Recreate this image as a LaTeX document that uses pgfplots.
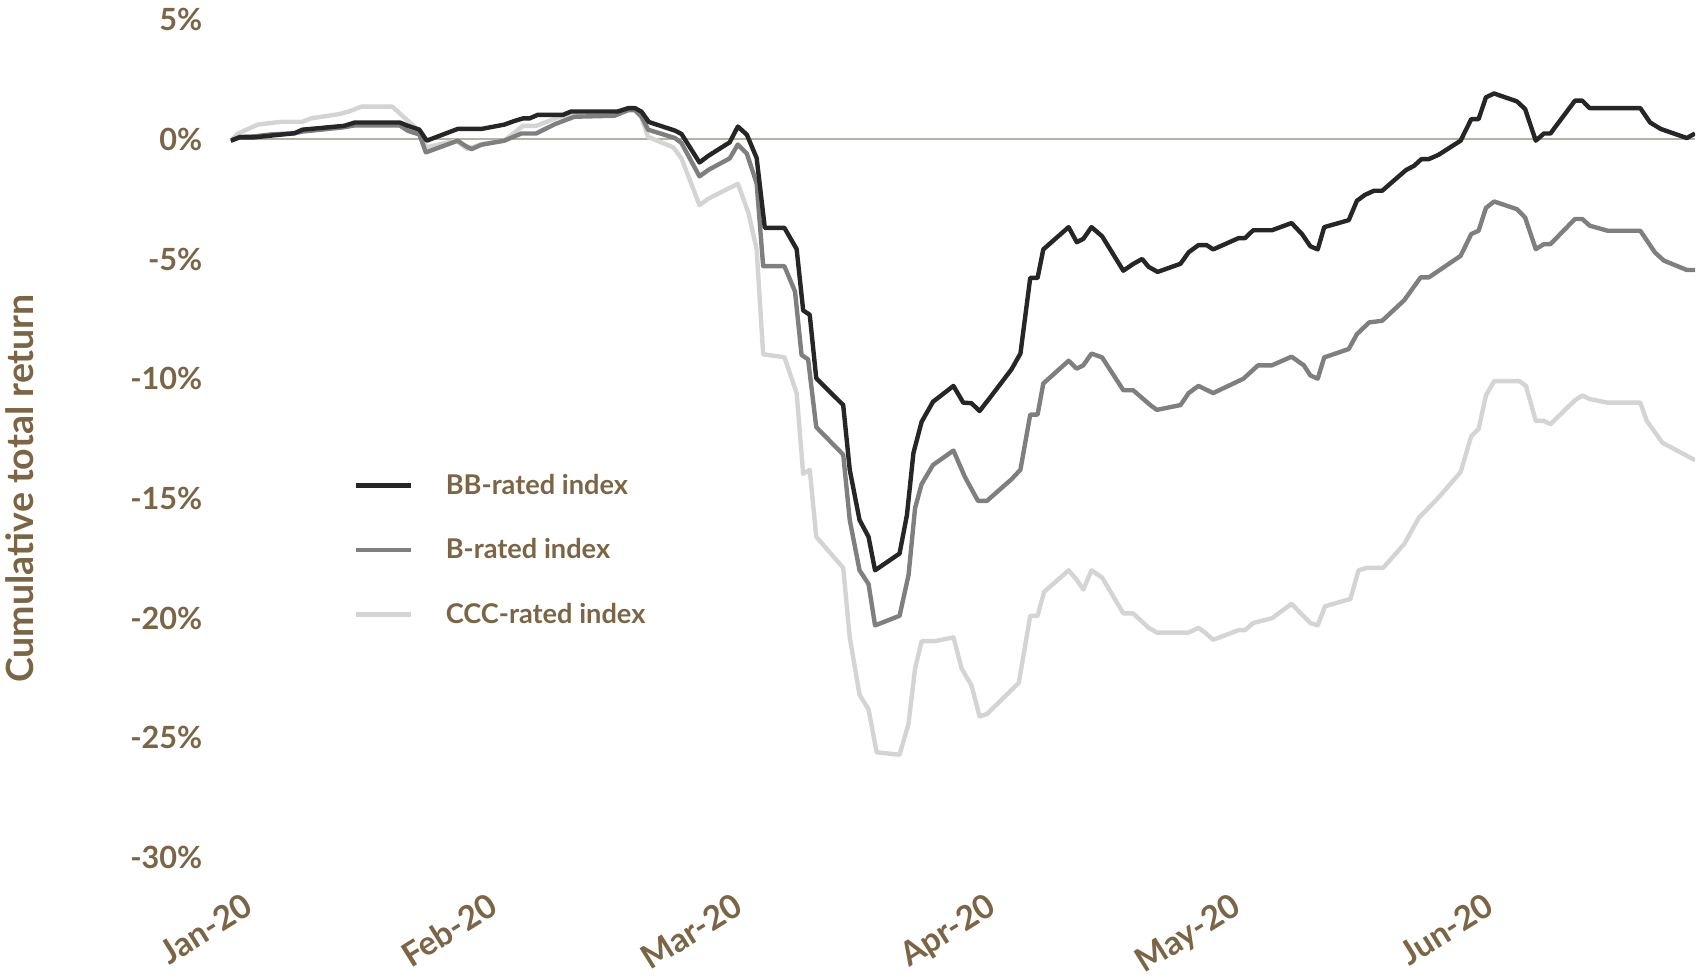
\documentclass[border=0pt]{standalone}
\usepackage{fontspec}
\setmainfont{Lato}
\usepackage{pgfplots}
\pgfplotsset{compat=1.18}
\usepackage{pgfplotstable}
\definecolor{txt}{HTML}{7B6545}
\definecolor{zline}{HTML}{B3B3A3}
\definecolor{cBB}{HTML}{262626}
\definecolor{cB}{HTML}{7F7F7F}
\definecolor{cCCC}{HTML}{D4D4D4}

\pgfplotstableread{
d v
-0.9 -0.06
0.2 0.08
2 0.08
4 0.15
6.9 0.25
7.9 0.40
13.0 0.56
14.3 0.70
19.8 0.70
20.8 0.56
22.2 0.40
23.1 -0.06
26.9 0.43
29.8 0.43
32.6 0.61
33.9 0.77
34.9 0.87
35.7 0.87
36.7 1.02
39.8 1.02
40.8 1.16
46.5 1.16
47.8 1.30
48.6 1.30
49.4 1.15
50.3 0.72
53.5 0.36
54.3 0.22
56.5 -0.97
57.6 -0.69
60.2 -0.13
61.2 0.53
62.3 0.19
63.5 -0.78
64.5 -3.70
66.9 -3.70
68.4 -4.59
69.2 -7.15
70.0 -7.33
70.8 -9.98
74.1 -11.1
74.9 -13.8
76.1 -15.9
77.2 -16.6
78.0 -18.0
81.0 -17.3
81.9 -15.7
82.7 -13.1
83.7 -11.8
85.1 -10.96
87.6 -10.3
88.8 -11.0
89.8 -11.02
90.8 -11.35
92.3 -10.69
94.7 -9.61
95.8 -8.95
97.0 -5.79
97.9 -5.79
98.6 -4.60
101.7 -3.67
102.7 -4.30
103.5 -4.16
104.5 -3.67
105.8 -4.05
108.4 -5.49
109.6 -5.21
110.7 -5.0
111.5 -5.33
112.6 -5.54
115.4 -5.2
116.4 -4.72
117.6 -4.42
118.6 -4.42
119.4 -4.60
122.5 -4.13
123.3 -4.13
124.3 -3.80
126.6 -3.80
129.0 -3.50
130.3 -3.97
131.3 -4.47
132.2 -4.60
133.0 -3.67
136.0 -3.38
137.0 -2.57
138.0 -2.32
139.1 -2.15
140.1 -2.15
143.0 -1.29
144.0 -1.11
144.9 -0.83
145.8 -0.83
147.0 -0.65
149.7 -0.06
151.0 0.84
151.9 0.84
152.8 1.75
153.8 1.91
156.6 1.58
157.6 1.26
158.9 -0.06
159.9 0.24
160.7 0.24
163.7 1.61
164.6 1.61
165.5 1.30
171.7 1.30
172.9 0.70
174.2 0.43
177.4 0.05
178.4 0.24
}\tabBB

\pgfplotstableread{
d v
-0.9 -0.06
0.2 0.10
2 0.12
4 0.20
6.9 0.25
7.9 0.32
13.0 0.50
14.3 0.58
19.8 0.58
20.8 0.35
22.2 0.20
23.0 -0.55
26.9 -0.06
27.8 -0.27
28.6 -0.41
29.8 -0.23
32.6 -0.06
34.7 0.24
36.5 0.24
38.8 0.63
41.2 0.94
46.1 0.98
47.8 1.22
48.6 1.22
49.4 0.95
50.2 0.40
53.5 0.05
54.3 -0.16
56.5 -1.55
57.6 -1.28
60.2 -0.80
61.2 -0.22
62.3 -0.60
63.5 -1.84
64.3 -5.3
66.9 -5.3
68.2 -6.36
69.0 -9.01
69.8 -9.19
70.8 -12.02
74.1 -13.17
74.9 -15.9
76.1 -18.0
77.2 -18.57
78.0 -20.3
81.0 -19.9
82.1 -18.2
82.9 -15.4
83.7 -14.4
85.1 -13.6
87.6 -13.0
89.0 -14.1
90.6 -15.1
91.7 -15.1
94.7 -14.2
95.8 -13.8
97.0 -11.5
97.9 -11.5
98.6 -10.2
101.7 -9.25
102.7 -9.58
103.5 -9.44
104.5 -8.95
105.8 -9.11
108.4 -10.48
109.6 -10.48
111.7 -11.1
112.5 -11.3
115.4 -11.1
116.4 -10.6
117.6 -10.3
119.4 -10.6
123.1 -10.0
124.9 -9.44
126.6 -9.44
129.0 -9.08
130.5 -9.44
131.3 -9.86
132.2 -10.0
133.0 -9.11
136.0 -8.76
137.0 -8.14
138.5 -7.65
140.1 -7.58
142.8 -6.72
144.8 -5.77
145.8 -5.77
149.7 -4.87
151.0 -3.96
151.9 -3.82
152.8 -2.87
153.8 -2.60
156.6 -2.92
157.6 -3.27
158.9 -4.59
159.9 -4.38
160.7 -4.38
163.7 -3.33
164.6 -3.33
165.5 -3.61
167.7 -3.82
171.7 -3.82
173.5 -4.73
174.6 -5.07
177.4 -5.46
178.4 -5.46
}\tabB

\pgfplotstableread{
d v
-0.9 -0.06
0.0 0.24
2.4 0.61
5.3 0.73
7.9 0.73
8.9 0.87
12.4 1.05
13.6 1.16
15.1 1.36
18.9 1.36
20.8 0.77
22.4 0.28
23.0 -0.34
26.7 -0.06
28.1 -0.41
29.8 -0.20
32.6 -0.06
34.9 0.56
36.5 0.56
39.2 0.91
41.2 1.00
46.1 1.08
47.8 1.20
48.6 1.20
49.4 0.90
50.2 0.10
53.3 -0.34
54.3 -0.80
56.5 -2.75
57.6 -2.48
61.2 -1.86
62.5 -3.08
63.5 -4.59
64.3 -8.98
66.9 -9.1
68.4 -10.6
69.2 -13.97
70.0 -13.8
70.8 -16.6
74.1 -17.9
74.9 -20.8
76.1 -23.2
77.2 -23.8
78.2 -25.6
81.0 -25.7
82.1 -24.4
82.9 -22.1
83.7 -20.96
85.3 -20.96
87.6 -20.8
88.6 -22.1
89.8 -22.8
90.8 -24.1
91.7 -24.0
95.6 -22.7
97.0 -19.9
97.9 -19.9
98.7 -18.9
101.7 -18.0
102.7 -18.4
103.5 -18.8
104.5 -18.0
105.8 -18.3
108.4 -19.8
109.6 -19.8
111.5 -20.4
112.5 -20.6
116.4 -20.6
117.6 -20.4
118.4 -20.6
119.4 -20.9
122.5 -20.5
123.3 -20.5
124.3 -20.2
126.6 -20.0
129.0 -19.4
131.3 -20.2
132.2 -20.3
133.1 -19.5
136.2 -19.2
137.2 -18.0
138.2 -17.9
140.2 -17.9
142.8 -16.9
144.6 -15.8
147.0 -14.96
149.7 -13.9
151.0 -12.4
151.9 -12.1
152.8 -10.7
153.8 -10.1
156.9 -10.1
157.7 -10.3
158.9 -11.76
159.9 -11.76
160.7 -11.9
163.7 -10.9
164.6 -10.7
165.5 -10.85
167.7 -11.0
171.7 -11.0
172.5 -11.76
174.4 -12.67
178.4 -13.4
}\tabCCC

\begin{document}
\begin{tikzpicture}
\begin{axis}[
  at={(0,0)}, anchor=south west,
  scale only axis, width=732.15pt, height=419.1pt,
  xmin=-0.9, xmax=178.4, ymin=-30, ymax=5,
  axis line style={draw=none},
  major tick length=0pt,
  xtick={0,30,60,91,121,152},
  xticklabels={Jan-20,Feb-20,Mar-20,Apr-20,May-20,Jun-20},
  ytick={-30,-25,-20,-15,-10,-5,0,5},
  yticklabel={\pgfmathprintnumber{\tick}\%},
  /pgf/number format/assume math mode=true,
  yticklabel style={font=\bfseries\fontsize{15.3}{18}\selectfont, text=txt,
    anchor=east, inner sep=0pt, xshift=-14pt},
  xticklabel style={font=\bfseries\fontsize{16.6}{19}\selectfont, text=txt,
    xshift=2pt, yshift=-16.7pt, rotate=32, anchor=north east, inner sep=0pt},
  ylabel={Cumulative total return},
  every axis y label/.style={at={(axis description cs:-0.1442,0.4406)}, rotate=90, anchor=center,
    font=\bfseries\fontsize{18.75}{22}\selectfont, text=txt},
  legend style={at={(axis description cs:0.0835,0.367)}, anchor=west, draw=none, fill=none,
    inner xsep=0pt, inner ysep=0pt, row sep=20.7pt, column sep=16.5pt,
    font=\bfseries\fontsize{13.6}{16}\selectfont, text=txt,
    nodes={inner sep=0pt}},
  legend cell align=left,
  legend image code/.code={\draw[#1] (0pt,0pt) -- (27.5pt,0pt);},
  line join=round,
]
\addplot[zline, line width=1pt, forget plot] coordinates {(-0.9,0) (178.4,0)};
\addplot[cCCC, line width=2.2pt, forget plot] table[x=d, y=v] {\tabCCC};
\addplot[cB, line width=2.2pt, forget plot] table[x=d, y=v] {\tabB};
\addplot[cBB, line width=2.2pt, forget plot] table[x=d, y=v] {\tabBB};
\addlegendimage{cBB, line width=2.2pt}
\addlegendentry{BB-rated index}
\addlegendimage{cB, line width=2.2pt}
\addlegendentry{B-rated index}
\addlegendimage{cCCC, line width=2.2pt}
\addlegendentry{CCC-rated index}
\end{axis}
\pgfresetboundingbox
\path (-115.35pt,-60.15pt) rectangle (733.65pt,428.85pt);
\end{tikzpicture}
\end{document}
